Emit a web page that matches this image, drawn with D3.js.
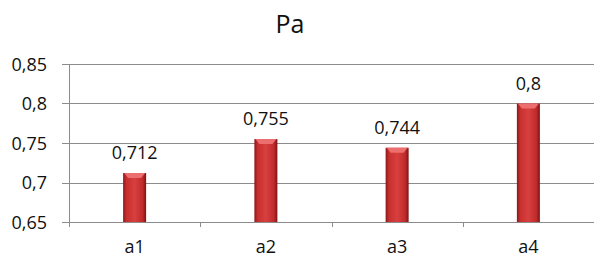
<!DOCTYPE html>
<html>
<head>
<meta charset="utf-8">
<script src="https://cdn.jsdelivr.net/npm/d3@7"></script>
<style>
  body { margin: 0; background: #fff; }
  text { font-family: "Open Sans", Lato, sans-serif; fill: #111; }
</style>
</head>
<body>
<script>
// Datos del gráfico
var categories = ['a1', 'a2', 'a3', 'a4'];
var values     = [0.712, 0.755, 0.744, 0.8];
var yTicks     = [0.65, 0.7, 0.75, 0.8, 0.85];
var title      = 'Pa';

var WIDTH  = 594;
var HEIGHT = 257;
var M = { left: 69, right: 594, top: 64, bottom: 222 };

var fmt = function(v) { return String(v).replace('.', ','); };

var svg = d3.select('body')
            .append('svg')
            .attr('width', WIDTH)
            .attr('height', HEIGHT);

var x = d3.scaleBand().domain(categories).range([M.left, M.right]);
var y = d3.scaleLinear().domain([0.65, 0.85]).range([M.bottom, M.top]);

// Degradado de las barras
var defs = svg.append('defs');
var g = defs.append('linearGradient').attr('id', 'barGrad')
            .attr('x1', 0).attr('x2', 1).attr('y1', 0).attr('y2', 0);
g.append('stop').attr('offset', '0%').attr('stop-color', '#8a1818');
g.append('stop').attr('offset', '15%').attr('stop-color', '#c83030');
g.append('stop').attr('offset', '50%').attr('stop-color', '#d84040');
g.append('stop').attr('offset', '85%').attr('stop-color', '#c02a2a');
g.append('stop').attr('offset', '100%').attr('stop-color', '#7a1414');

// Líneas de cuadrícula
svg.selectAll('line.grid')
   .data(yTicks)
   .enter()
 .append('line')
   .attr('class', 'grid')
   .attr('x1', M.left - 7)
   .attr('x2', M.right)
   .attr('y1', function(d) { return Math.round(y(d)) + 0.5; })
   .attr('y2', function(d) { return Math.round(y(d)) + 0.5; })
   .attr('stroke', '#8c8c8c')
   .attr('stroke-width', 1);

// Eje vertical
svg.append('line')
   .attr('x1', M.left + 0.5).attr('x2', M.left + 0.5)
   .attr('y1', M.top).attr('y2', M.bottom + 5)
   .attr('stroke', '#8c8c8c');

// Marcas del eje horizontal
svg.selectAll('line.xtick')
   .data(categories.slice(1))
   .enter()
 .append('line')
   .attr('class', 'xtick')
   .attr('x1', function(d) { return Math.round(x(d)) + 0.5; })
   .attr('x2', function(d) { return Math.round(x(d)) + 0.5; })
   .attr('y1', M.bottom).attr('y2', M.bottom + 5)
   .attr('stroke', '#8c8c8c');

// Etiquetas del eje Y
svg.selectAll('text.ylab')
   .data(yTicks)
   .enter()
 .append('text')
   .attr('class', 'ylab')
   .attr('x', 47)
   .attr('y', function(d) { return y(d) + 6.5; })
   .attr('text-anchor', 'end')
   .style('font-size', '18px')
   .text(function(d) { return fmt(d); });

// Barras
var bw = 23;
var bars = svg.selectAll('g.bar')
              .data(values)
              .enter()
            .append('g')
              .attr('class', 'bar');

bars.append('rect')
    .attr('x', function(d, i) { return x(categories[i]) + x.bandwidth() / 2 - bw / 2; })
    .attr('y', function(d) { return y(d); })
    .attr('width', bw)
    .attr('height', function(d) { return M.bottom - y(d); })
    .attr('fill', 'url(#barGrad)');

// Bisel superior
bars.append('path')
    .attr('d', function(d, i) {
      var x0 = x(categories[i]) + x.bandwidth() / 2 - bw / 2, y0 = y(d);
      return 'M' + (x0 + 1) + ',' + y0 + 'L' + (x0 + bw - 1) + ',' + y0 +
             'L' + (x0 + bw - 5) + ',' + (y0 + 5) + 'L' + (x0 + 5) + ',' + (y0 + 5) + 'Z';
    })
    .attr('fill', '#ec6e6e');

// Valores
svg.selectAll('text.val')
   .data(values)
   .enter()
 .append('text')
   .attr('class', 'val')
   .attr('x', function(d, i) { return x(categories[i]) + x.bandwidth() / 2; })
   .attr('y', function(d) { return y(d) - 14; })
   .attr('text-anchor', 'middle')
   .style('font-size', '18px')
   .text(function(d) { return fmt(d); });

// Categorías
svg.selectAll('text.cat')
   .data(categories)
   .enter()
 .append('text')
   .attr('class', 'cat')
   .attr('x', function(d) { return x(d) + x.bandwidth() / 2; })
   .attr('y', 253)
   .attr('text-anchor', 'middle')
   .style('font-size', '18px')
   .text(function(d) { return d; });

// Título
svg.append('text')
   .attr('x', 290)
   .attr('y', 33)
   .attr('text-anchor', 'middle')
   .style('font-size', '25px')
   .text(title);
</script>
</body>
</html>
